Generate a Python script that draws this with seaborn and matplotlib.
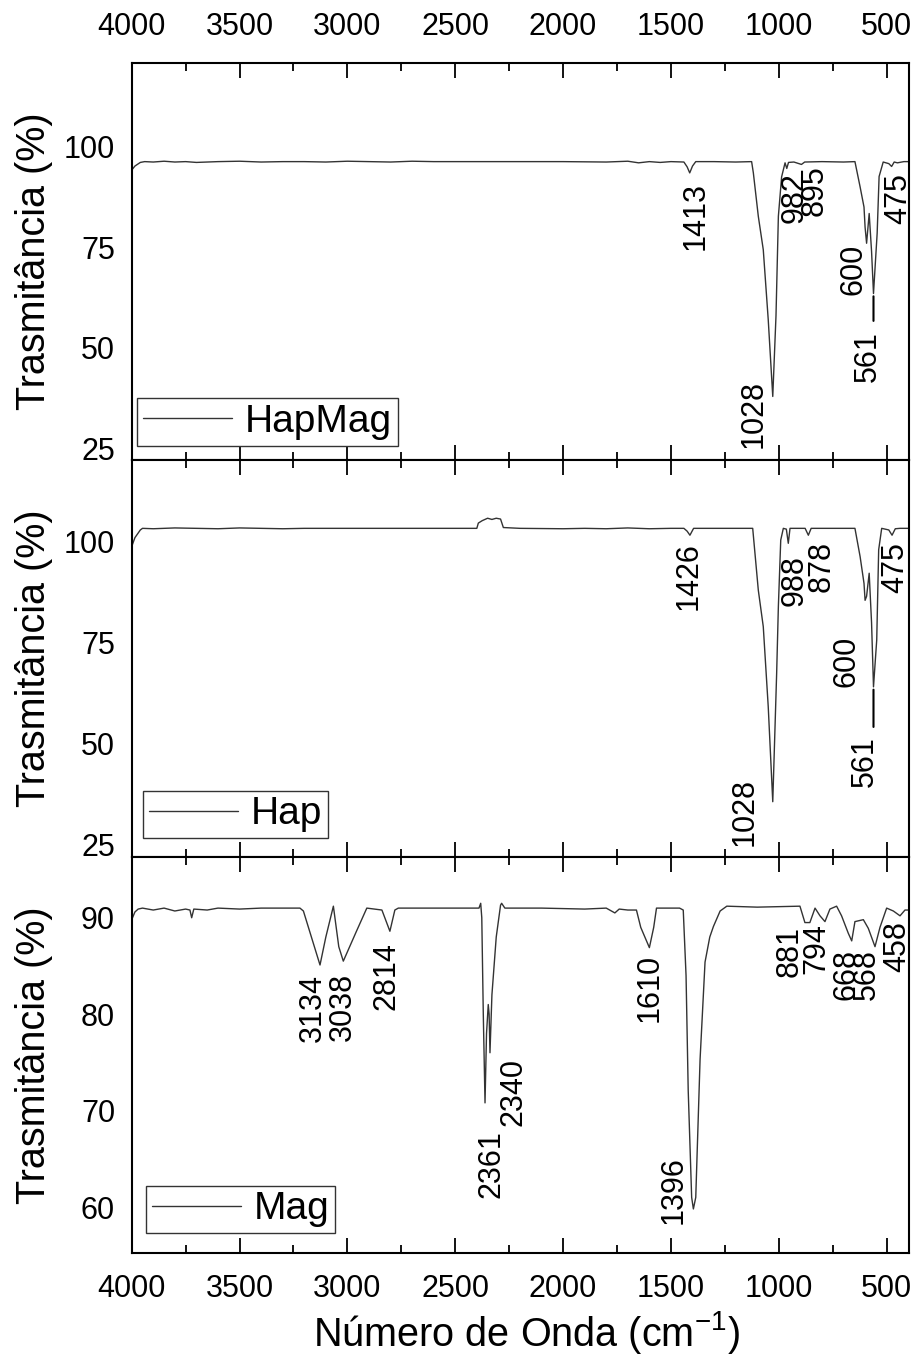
import matplotlib
matplotlib.use("Agg")
import matplotlib.pyplot as plt
import seaborn as sns
import pandas as pd

# ---------------- data ----------------
hapmag_wn = [4000, 3985, 3960, 3940, 3900, 3850, 3800, 3750, 3700, 3600, 3500, 3400, 3300,
             3200, 3100, 3000, 2900, 2800, 2700, 2600, 2400, 2000, 1800, 1700, 1650, 1600,
             1550, 1500, 1440, 1425, 1413, 1400, 1385, 1300, 1200, 1126, 1118, 1095, 1072,
             1049, 1028, 1013, 1002, 987, 971, 963, 955, 930, 895, 880, 800, 700, 647, 623,
             605, 600, 593, 581, 570, 561, 544, 535, 516, 490, 477, 465, 450, 420, 395]
hapmag_t = [94.2, 95.2, 96.1, 96.3, 96.2, 96.4, 96.2, 96.3, 96.1, 96.3, 96.4, 96.2, 96.3,
            96.3, 96.2, 96.4, 96.3, 96.2, 96.4, 96.3, 96.3, 96.3, 96.2, 96.4, 96.0, 96.3,
            96.1, 96.3, 96.2, 95.0, 93.5, 95.2, 96.3, 96.3, 96.2, 96.3, 93.5, 82.7, 74.4,
            57.0, 37.9, 58.0, 82.7, 92.5, 96.0, 94.6, 96.1, 96.2, 95.6, 96.2, 96.3, 96.2, 96.3, 90.0,
            85.0, 80.0, 76.0, 83.4, 74.0, 63.5, 78.5, 92.6, 96.2, 95.8, 95.1, 96.2, 96.0, 96.3, 96.3]

hap_wn = [4000, 3985, 3960, 3950, 3900, 3800, 3700, 3600, 3500, 3400, 3300, 3200, 3000,
          2800, 2600, 2400, 2393, 2375, 2350, 2330, 2310, 2290, 2277, 2200, 2000, 1900,
          1800, 1700, 1600, 1500, 1440, 1425, 1412, 1395, 1300, 1200, 1121, 1095, 1072,
          1049, 1028, 1010, 1002, 991, 979, 965, 956, 948, 900, 878, 863, 850, 760, 700,
          647, 623, 605, 600, 593, 581, 570, 561, 546, 537, 523, 490, 475, 460, 438, 395]
hap_t = [98.8, 101.0, 102.9, 103.3, 103.2, 103.4, 103.3, 103.2, 103.4, 103.3, 103.2, 103.3, 103.3,
         103.3, 103.3, 103.3, 104.6, 105.2, 105.8, 105.5, 105.8, 105.6, 103.5, 103.3, 103.2, 103.3,
         103.2, 103.4, 103.2, 103.3, 103.3, 102.6, 101.6, 103.3, 103.3, 103.3, 103.3, 88.0, 79.0,
         59.2, 35.7, 67.4, 84.0, 100.4, 103.3, 103.1, 99.6, 103.3, 103.3, 103.3, 101.6, 103.3, 103.3, 103.3,
         103.3, 96.3, 89.7, 85.5, 86.5, 92.2, 80.0, 64.1, 75.7, 98.0, 103.3, 102.9, 101.6, 103.2, 103.3, 103.3]

mag_wn = [4000, 3985, 3970, 3950, 3900, 3850, 3800, 3750, 3730, 3722, 3712, 3650, 3600, 3500,
          3400, 3300, 3220, 3204, 3160, 3127, 3100, 3065, 3040, 3019, 2960, 2910, 2840, 2803,
          2780, 2764, 2600, 2400, 2390, 2382, 2377, 2370, 2362, 2355, 2347, 2343, 2339, 2330,
          2310, 2290, 2285, 2270, 2100, 1900, 1800, 1760, 1740, 1700, 1660, 1640, 1600, 1580,
          1567, 1460, 1443, 1430, 1420, 1404, 1396, 1385, 1365, 1342, 1320, 1303, 1272, 1241,
          1100, 902, 879, 856, 832, 809, 786, 763, 732, 709, 678, 662, 647, 608, 585, 554,
          531, 500, 469, 438, 415, 395]
mag_t = [89.8, 90.6, 90.9, 91.0, 90.8, 91.0, 90.7, 90.9, 90.8, 90.0, 90.9, 90.8, 91.0, 90.9,
         91.0, 91.0, 91.0, 90.7, 87.5, 85.1, 88.0, 91.2, 87.0, 85.5, 88.5, 91.0, 90.8, 88.6,
         90.8, 91.0, 91.0, 91.0, 91.0, 91.5, 90.0, 80.0, 70.8, 78.0, 81.0, 80.0, 76.0, 82.0,
         88.0, 91.3, 91.5, 91.0, 91.0, 90.9, 91.0, 90.5, 90.9, 90.8, 90.8, 89.0, 86.9, 89.0,
         91.0, 91.0, 90.8, 84.0, 72.1, 61.0, 59.8, 61.0, 75.3, 85.4, 88.0, 89.1, 90.7, 91.2,
         91.1, 91.2, 89.5, 89.5, 91.0, 90.2, 89.6, 90.9, 91.2, 90.2, 88.4, 87.6, 89.6, 89.8, 88.9, 87.0,
         89.0, 91.0, 90.7, 90.2, 90.8, 90.8]

series_names = ["HapMag", "Hap", "Mag"]

# peak labels: text, wavenumber position, transmittance position
hapmag_labels = ["1413", "1028", "982", "895", "600", "561", "475"]
hapmag_lab_x = [1385, 1118, 925, 833, 654, 585, 446]
hapmag_lab_y = [82.8, 33.6, 87.4, 89.0, 69.6, 47.9, 87.1]

hap_labels = ["1426", "1028", "988", "878", "600", "561", "475"]
hap_lab_x = [1420, 1157, 925, 801, 685, 600, 461]
hap_lab_y = [91.6, 33.2, 90.3, 93.8, 70.5, 45.6, 93.6]

mag_labels = ["3134", "3038", "2814", "2361", "2340", "1610", "1396", "881", "794", "668", "568", "458"]
mag_lab_x = [3158, 3019, 2818, 2331, 2231, 1597, 1489, 948, 825, 685, 593, 453]
mag_lab_y = [80.6, 80.8, 84.0, 64.5, 71.9, 82.7, 61.8, 86.5, 86.8, 84.1, 84.1, 87.0]

# ---------------- style ----------------
sns.set_style("ticks")
plt.rcParams["font.family"] = ["Liberation Sans", "DejaVu Sans"]
plt.rcParams["mathtext.default"] = "regular"
plt.rcParams["text.color"] = "black"
plt.rcParams["axes.labelcolor"] = "black"
plt.rcParams["xtick.color"] = "black"
plt.rcParams["ytick.color"] = "black"

W, H = 919, 1358
fig = plt.figure(figsize=(W / 100, H / 100), dpi=100)

left = 131.7 / W
width = (909.3 - 131.7) / W
panels_px = [(62.7, 460.0), (460.0, 856.7), (857.0, 1253.3)]
axes = []
for (t, b) in panels_px:
    ax = fig.add_axes([left, 1 - b / H, width, (b - t) / H])
    axes.append(ax)

line_color = "#333333"
data_sets = [(hapmag_wn, hapmag_t), (hap_wn, hap_t), (mag_wn, mag_t)]
ylims = [(22.1, 120.9), (22.1, 120.2), (55.2, 96.3)]
yticks = [[25, 50, 75, 100], [25, 50, 75, 100], [60, 70, 80, 90]]
label_sets = [(hapmag_labels, hapmag_lab_x, hapmag_lab_y),
              (hap_labels, hap_lab_x, hap_lab_y),
              (mag_labels, mag_lab_x, mag_lab_y)]
legend_offsets_px = [(5, 14.3), (11, 18.4), (14, 20)]

for i, ax in enumerate(axes):
    wn, tt = data_sets[i]
    df = pd.DataFrame({"wn": wn, "T": tt})
    sns.lineplot(data=df, x="wn", y="T", ax=ax, color=line_color, lw=1.0,
                 estimator=None, label=series_names[i])
    ax.set_xlim(4000, 395)
    ax.set_ylim(*ylims[i])
    ax.set_yticks(yticks[i])
    ax.set_xticks([4000, 3500, 3000, 2500, 2000, 1500, 1000, 500])
    ax.set_xticks([3750, 3250, 2750, 2250, 1750, 1250, 750], minor=True)
    ax.tick_params(axis="x", which="major", direction="in", top=True, bottom=True,
                   length=11, width=1.3, labelsize=22, pad=15,
                   labeltop=(i == 0), labelbottom=(i == 2), color="black", labelcolor="black")
    ax.tick_params(axis="x", which="minor", direction="in", top=True, bottom=True,
                   length=5.5, width=1.3, color="black")
    ax.tick_params(axis="y", which="both", length=0, labelsize=22, pad=12, labelcolor="black")
    for sp in ax.spines.values():
        sp.set_linewidth(1.5)
        sp.set_color("black")
    ax.set_xlabel("")
    ax.set_ylabel("Trasmitância (%)", fontsize=28.5, color="black")
    ax.yaxis.set_label_coords(-0.101, 0.5)

    labs, lx, ly = label_sets[i]
    for s, x, y in zip(labs, lx, ly):
        ax.text(x, y, s, rotation=90, ha="center", va="center", fontsize=22, color="black")

    axw = (909.3 - 131.7)
    axh = panels_px[i][1] - panels_px[i][0]
    ox, oy = legend_offsets_px[i]
    leg = ax.legend(loc="lower left", bbox_to_anchor=(ox / axw, oy / axh), borderaxespad=0,
                    fontsize=28, frameon=True, fancybox=False, handlelength=2.3,
                    handletextpad=0.33, borderpad=0.15, edgecolor="#333333")
    leg.get_frame().set_linewidth(1.0)
    leg.get_frame().set_alpha(1)
    for txt in leg.get_texts():
        txt.set_color("black")

# leader lines for a few peaks
axes[0].annotate("", xy=(561, 63.5), xytext=(561, 56.0),
                 arrowprops=dict(arrowstyle="-", color="black", lw=1.5))
axes[1].annotate("", xy=(561, 64.1), xytext=(561, 53.5),
                 arrowprops=dict(arrowstyle="-", color="black", lw=1.5))

axes[2].set_xlabel("Número de Onda (cm$^{-1}$)", fontsize=28.5, color="black")
axes[2].xaxis.set_label_coords(0.507, -0.14)

fig.savefig("out.png", dpi=100)
